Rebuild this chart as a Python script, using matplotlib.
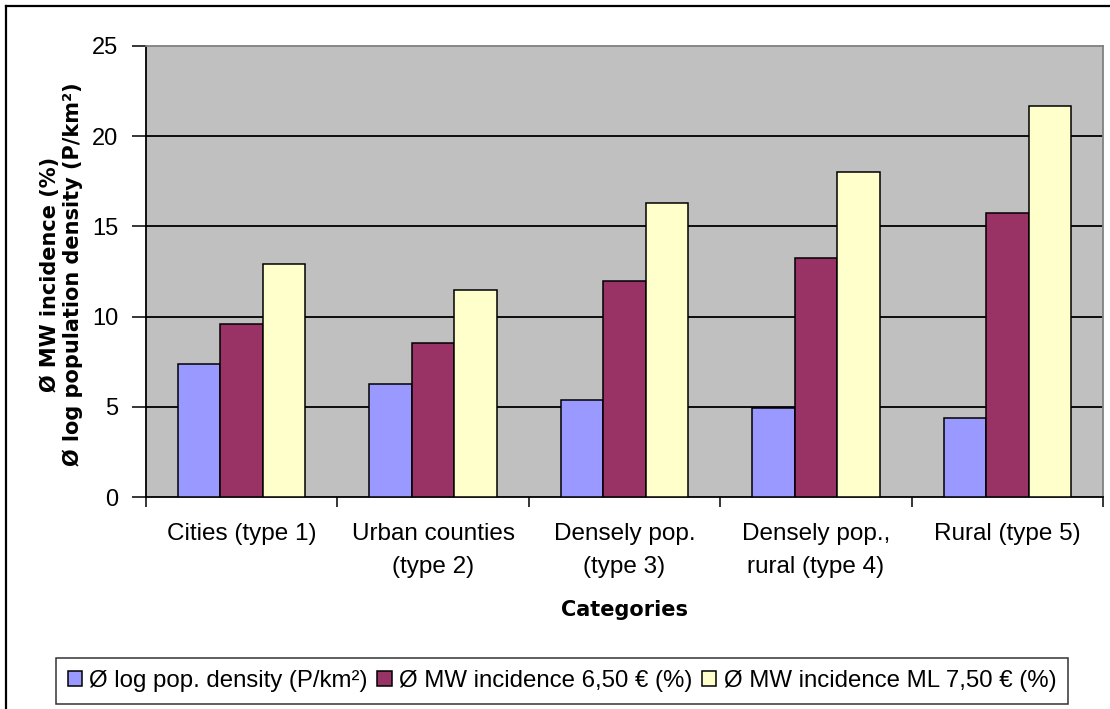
import numpy as np
import matplotlib
matplotlib.use("Agg")
import matplotlib.pyplot as plt
from matplotlib.patches import Rectangle
from matplotlib.lines import Line2D

categories = ["Cities (type 1)", "Urban counties\n(type 2)", "Densely pop.\n(type 3)",
              "Densely pop.,\nrural (type 4)", "Rural (type 5)"]
series_names = ["Ø log pop. density (P/km²)",
                "Ø MW incidence 6,50 € (%)",
                "Ø MW incidence ML 7,50 € (%)"]
log_density = [7.4, 6.25, 5.35, 4.95, 4.4]
mw_650 = [9.6, 8.55, 12.0, 13.25, 15.75]
mw_750 = [12.9, 11.45, 16.3, 18.0, 21.7]
colors = ["#9999FF", "#993366", "#FFFFCC"]
yticks = [0, 5, 10, 15, 20, 25]
ylabel_lines = ["Ø MW incidence (%)", "Ø log population density (P/km²)"]

sans = ["Liberation Sans", "DejaVu Sans"]
bold = ["DejaVu Sans"]

W, H = 1110, 709
fig = plt.figure(figsize=(W / 100, H / 100), dpi=100)
fig.patch.set_facecolor("white")

# outer frame (cut at the right and bottom)
fig.add_artist(Line2D([6 / W, 1.0], [1 - 6 / H, 1 - 6 / H], transform=fig.transFigure,
                      color="black", lw=1.6))
fig.add_artist(Line2D([6 / W, 6 / W], [0.0, 1 - 6 / H], transform=fig.transFigure,
                      color="black", lw=1.6))

left, right, top, bottom = 146, 1103, 46, 497
ax = fig.add_axes([left / W, 1 - bottom / H, (right - left) / W, (bottom - top) / H])
ax.set_facecolor("#C0C0C0")

x = np.arange(len(categories))
w = 0.222
for i, (vals, col) in enumerate(zip([log_density, mw_650, mw_750], colors)):
    ax.bar(x + (i - 1) * w, vals, width=w, color=col, edgecolor="black", linewidth=1.1,
           zorder=3, label=series_names[i])

ax.set_xlim(-0.5, len(categories) - 0.5)
ax.set_ylim(0, 25)
ax.set_yticks(yticks)
ax.set_yticklabels([str(t) for t in yticks], family=sans, fontsize=17)
for t in yticks[1:-1]:
    ax.axhline(t, color="black", lw=1.3, zorder=1)

ax.set_xticks(x)
ax.set_xticklabels(categories, family=sans, fontsize=17.5, linespacing=1.6, va="top")
ax.set_xticks(np.arange(-0.5, len(categories)), minor=True)
ax.tick_params(axis="x", which="major", length=0, pad=19)
ax.tick_params(axis="x", which="minor", length=7, width=1.1, direction="out")
ax.tick_params(axis="y", length=10, width=1.1, direction="out", pad=10)

for s in ["left", "bottom"]:
    ax.spines[s].set_color("black")
    ax.spines[s].set_linewidth(1.3)
for s in ["top", "right"]:
    ax.spines[s].set_color("#808080")
    ax.spines[s].set_linewidth(1.3)

# two-line y-axis title
for xc, line in zip([50, 73], ylabel_lines):
    fig.text(xc / W, 1 - 274 / H, line, rotation=90, ha="center", va="center",
             fontsize=15, fontweight="bold", family=bold)
fig.text((left + right) / 2 / W, 1 - 610 / H, "Categories", ha="center", va="center",
         fontsize=15, fontweight="bold", family=bold)

handles = [Rectangle((0, 0), 1, 1, facecolor=c, edgecolor="black", linewidth=1.1) for c in colors]
leg = fig.legend(handles, series_names, loc="center", bbox_to_anchor=(562 / W, 1 - 681 / H),
                 ncol=3, frameon=True, fancybox=False, edgecolor="black",
                 prop={"family": sans, "size": 17.3}, handlelength=0.6, handleheight=0.6,
                 handletextpad=0.3, columnspacing=0.4, borderpad=0.5, borderaxespad=0)
leg.get_frame().set_linewidth(1.1)

fig.savefig("out.png", dpi=100)
